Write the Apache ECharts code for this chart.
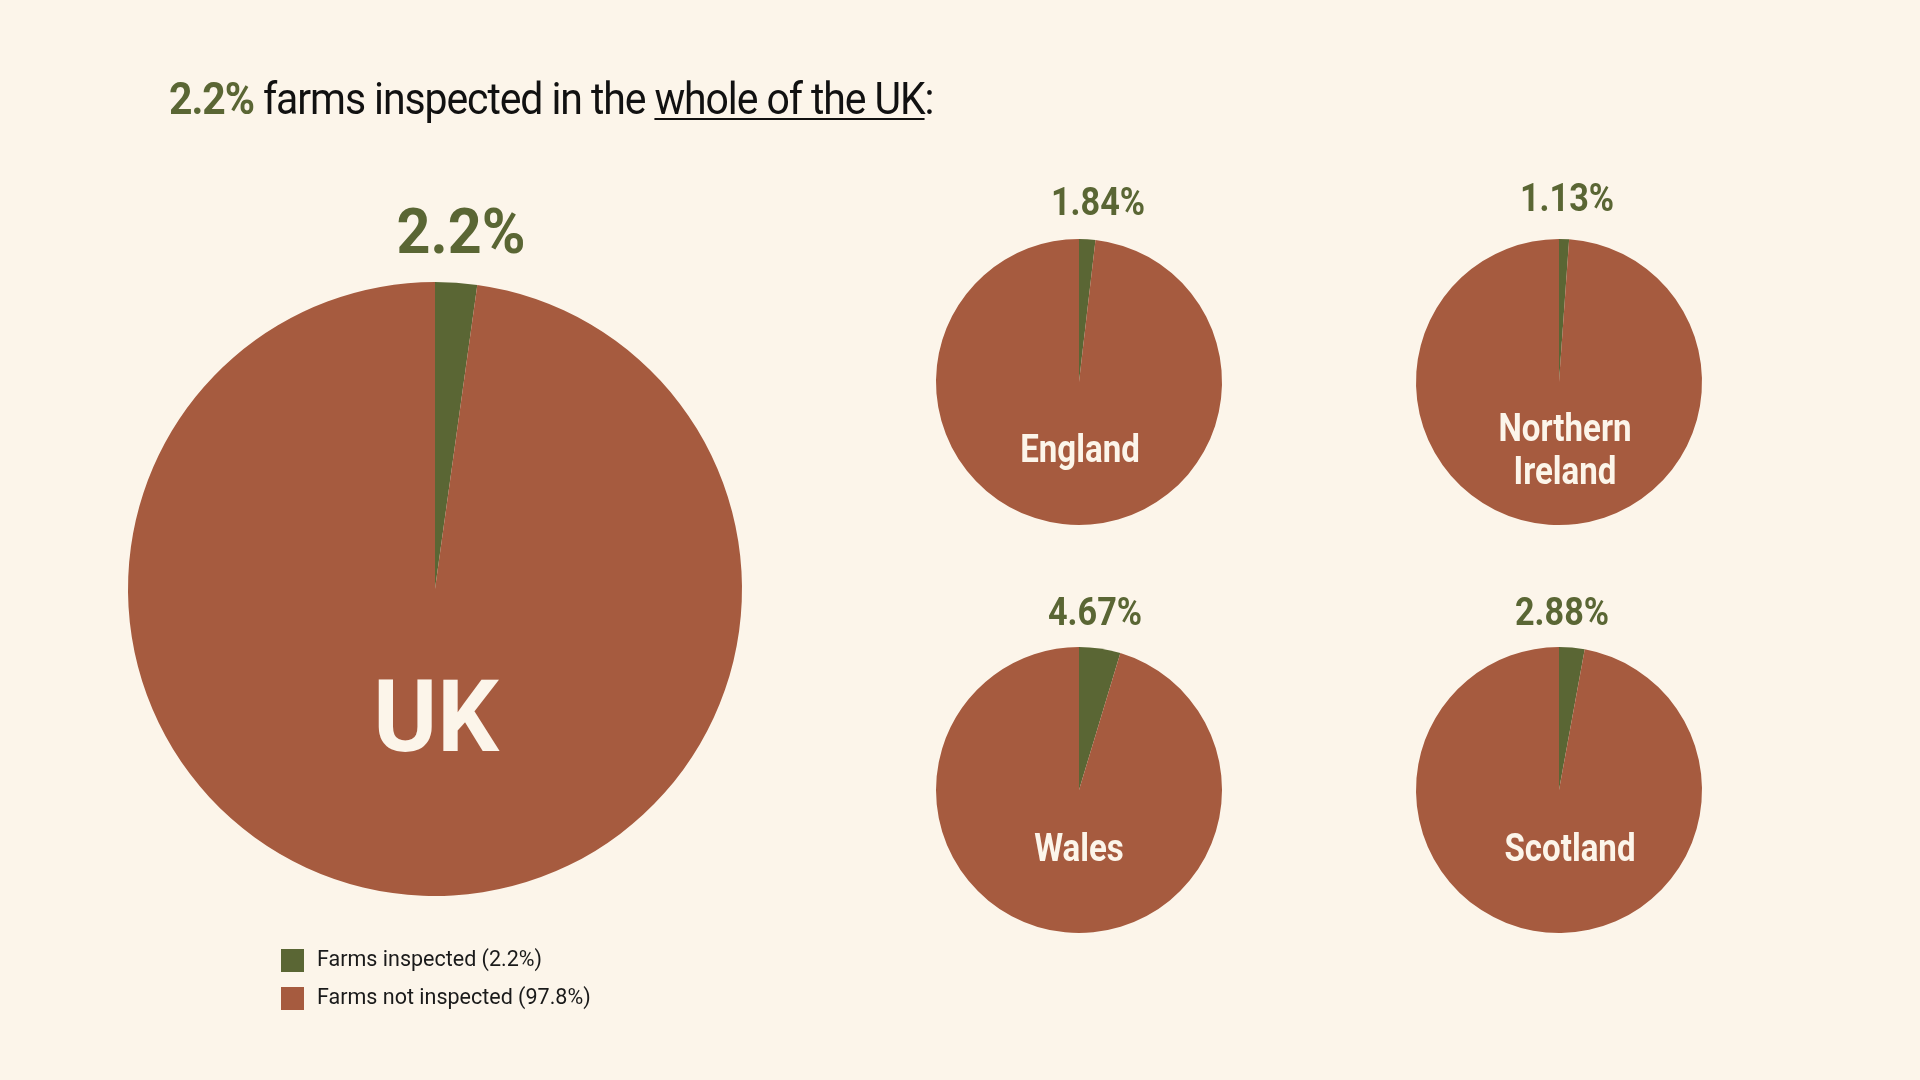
<!DOCTYPE html>
<html>
<head>
<meta charset="utf-8">
<title>Farms inspected</title>
<script src="https://cdn.jsdelivr.net/npm/echarts@6/dist/echarts.min.js"></script>
<style>
	html, body { margin: 0; padding: 0; background: #fcf5ea; }
	#chart { position: absolute; left: 0; top: 0; width: 1920px; height: 1080px; }
	#head {
		position: absolute; left: 169px; top: 71px; z-index: 2; white-space: nowrap;
		font-family: Roboto, "Noto Sans", sans-serif; transform-origin: 0 0;
		font-size: 45px; line-height: 56px; color: #111; letter-spacing: -1.2px;
	}
	#head b { color: #5a6634; font-weight: 700; }
	#head u { text-decoration-thickness: 2px; text-underline-offset: 4px; }
</style>
</head>
<body>
<div id="head"><b>2.2%</b> farms inspected in the <u>whole of the UK</u>:</div>
<div id="chart"></div>
<script>
var regions = ['UK', 'England', 'Northern\nIreland', 'Wales', 'Scotland'];
var inspected = [2.2, 1.84, 1.13, 4.67, 2.88];
var notInspected = [97.8, 98.16, 98.87, 95.33, 97.12];
var pctLabels = ['2.2%', '1.84%', '1.13%', '4.67%', '2.88%'];
var legendNames = ['Farms inspected', 'Farms not inspected'];

var GREEN = '#5a6634';
var BROWN = '#a65b3f';
var CREAM = '#fcf5ea';
var FONT = 'Roboto, "Noto Sans", sans-serif';

// layout: centre x, centre y, radius
var layout = [
	[435, 589, 307],
	[1079, 382, 143],
	[1559, 382, 143],
	[1079, 790, 143],
	[1559, 790, 143]
];
// label placement: pct dx, pct gap above pie, pct font, name dx, name dy, name font
var labelPos = [
	[26, 45, 63, 1, 137, 100],
	[19, 34, 38, 1, 70, 38],
	[8, 38, 38, 6, 71, 38],
	[16, 32, 38, 0, 61, 38],
	[3, 32, 38, 11, 61, 38]
];

var View = function() {
	var fitHead = function() {
		var el = document.getElementById('head');
		el.style.transform = 'scaleX(' + (764 / el.offsetWidth) + ')';
	}

	var buildSeries = function() {
		var series = [];
		for (var i = 0; i < regions.length; i++) {
			var l = layout[i];
			series.push({
				name : regions[i],
				type : 'pie',
				center : [l[0], l[1]],
				radius : [0, l[2]],
				startAngle : 90,
				clockwise : true,
				silent : true,
				animation : false,
				label : { show : false },
				labelLine : { show : false },
				itemStyle : { borderWidth : 0 },
				data : [
					{ name : legendNames[0], value : inspected[i], itemStyle : { color : GREEN } },
					{ name : legendNames[1], value : notInspected[i], itemStyle : { color : BROWN } }
				]
			});
		}
		return series;
	}

	var buildTexts = function() {
		var items = [];
		for (var i = 0; i < regions.length; i++) {
			var l = layout[i], p = labelPos[i];
			items.push({
				type : 'text',
				x : l[0] + p[0],
				y : l[1] - l[2] - p[1],
				scaleX : i == 0 ? 0.94 : 0.9,
				style : {
					text : pctLabels[i],
					fill : GREEN,
					font : 'bold ' + p[2] + 'px ' + FONT,
					textAlign : 'center',
					textVerticalAlign : 'middle'
				},
				z : 10
			});
			items.push({
				type : 'text',
				x : l[0] + p[3],
				y : l[1] + p[4],
				scaleX : i == 0 ? 0.97 : 0.87,
				style : {
					text : regions[i],
					fill : CREAM,
					font : 'bold ' + p[5] + 'px ' + FONT,
					lineHeight : 43,
					textAlign : 'center',
					textVerticalAlign : 'middle'
				},
				z : 10
			});
		}
		return items;
	}

	return {
		init : function() {
			fitHead();
			var myChart = echarts.init(document.getElementById('chart'));
			var option = {
				backgroundColor : CREAM,
				animation : false,
				legend : {
					orient : 'vertical',
					left : 281,
					top : 949,
					padding : 0,
					icon : 'rect',
					itemWidth : 23,
					itemHeight : 23,
					itemGap : 15,
					selectedMode : false,
					data : legendNames,
					formatter : function(name) {
						var idx = legendNames.indexOf(name);
						var v = idx == 0 ? inspected[0] : notInspected[0];
						return name + ' (' + v + '%)';
					},
					textStyle : {
						fontFamily : FONT,
						fontSize : 21.5,
						color : '#1a1a1a',
						padding : [0, 0, 0, 8]
					}
				},
				graphic : buildTexts(),
				series : buildSeries()
			};
			myChart.setOption(option);
		}
	}
}();
View.init();
</script>
</body>
</html>
